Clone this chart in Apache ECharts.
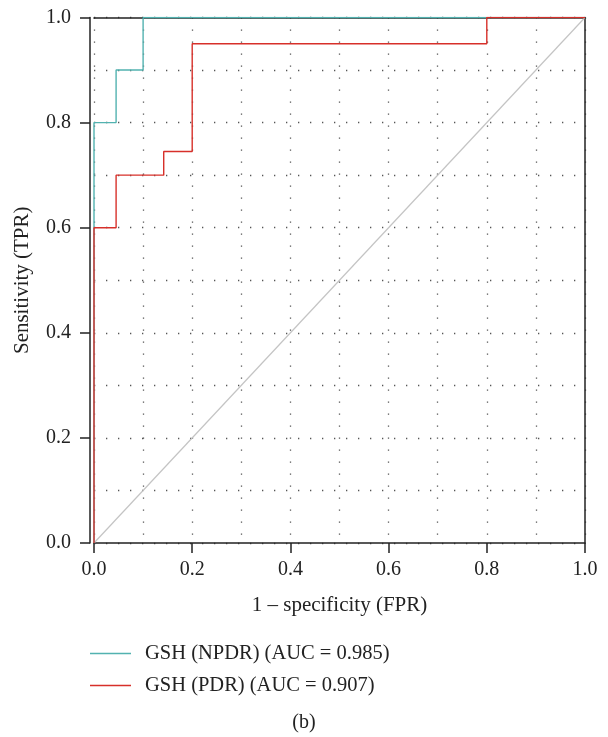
<!DOCTYPE html>
<html><head><meta charset="utf-8">
<script src="https://cdn.jsdelivr.net/npm/echarts@6/dist/echarts.min.js"></script>
<style>html,body{margin:0;padding:0;background:#fff}#c{width:608px;height:737px}</style>
</head><body><div id="c"></div>
<script>
const xTicks = [0, 0.2, 0.4, 0.6, 0.8, 1.0];
const npdrName = 'GSH (NPDR) (AUC = 0.985)';
const pdrName = 'GSH (PDR) (AUC = 0.907)';
const npdrFPR = [0, 0, 0.045, 0.045, 0.1, 0.1, 1.0];
const npdrTPR = [0, 0.8, 0.8, 0.9, 0.9, 1.0, 1.0];
const pdrFPR = [0, 0, 0.045, 0.045, 0.142, 0.142, 0.2, 0.2, 0.8, 0.8, 1.0];
const pdrTPR = [0, 0.6, 0.6, 0.7, 0.7, 0.745, 0.745, 0.95, 0.95, 1.0, 1.0];
const diagFPR = [0, 1];
const diagTPR = [0, 1];
const zip = (a, b) => a.map((v, i) => [v, b[i]]);

const font = 'Liberation Serif';
const frame = {color: '#222', width: 1.5};
const dotted = {color: '#555', width: 1.3, type: [1.3, 10.7]};

const chart = echarts.init(document.getElementById('c'));
chart.setOption({
  animation: false,
  textStyle: {fontFamily: font},
  grid: {left: 94, right: 23, top: 17.5, bottom: 194, containLabel: false},
  title: {text: '(b)', left: 'center', top: 708, textStyle: {fontFamily: font, fontSize: 20, fontWeight: 'normal', color: '#222'}},
  legend: {
    orient: 'vertical', left: 85, top: 638, itemWidth: 41, itemHeight: 1.5, itemGap: 11, icon: 'rect',
    data: [npdrName, pdrName],
    textStyle: {fontFamily: font, fontSize: 20.5, color: '#222', lineHeight: 20, padding: [0, 0, 0, 9]}
  },
  xAxis: [{
    type: 'value', min: xTicks[0], max: xTicks[xTicks.length - 1], interval: 0.2, position: 'bottom',
    name: '1 – specificity (FPR)', nameLocation: 'middle', nameGap: 52,
    nameTextStyle: {fontFamily: font, fontSize: 21, color: '#222'},
    axisLine: {onZero: false, lineStyle: frame},
    axisTick: {show: true, inside: false, length: 10, lineStyle: frame},
    axisLabel: {fontFamily: font, fontSize: 20, color: '#222', margin: 17, formatter: v => v.toFixed(1)},
    splitLine: {show: true, lineStyle: dotted},
    minorTick: {show: false, splitNumber: 2},
    minorSplitLine: {show: true, lineStyle: dotted}
  }, {
    type: 'value', min: 0, max: 1, position: 'top',
    axisLine: {show: true, onZero: false, lineStyle: frame},
    axisTick: {show: false}, axisLabel: {show: false}, splitLine: {show: false}
  }],
  yAxis: [{
    type: 'value', min: 0, max: 1, interval: 0.2, position: 'left', offset: 4,
    name: 'Sensitivity (TPR)', nameLocation: 'middle', nameGap: 57,
    nameTextStyle: {fontFamily: font, fontSize: 21, color: '#222'},
    axisLine: {show: true, onZero: false, lineStyle: frame},
    axisTick: {show: true, inside: false, length: 10, lineStyle: frame},
    axisLabel: {fontFamily: font, fontSize: 20, color: '#222', margin: 19, formatter: v => v.toFixed(1)},
    splitLine: {show: true, lineStyle: dotted},
    minorTick: {show: false, splitNumber: 2},
    minorSplitLine: {show: true, lineStyle: dotted}
  }, {
    type: 'value', min: 0, max: 1, position: 'right',
    axisLine: {show: true, onZero: false, lineStyle: frame},
    axisTick: {show: false}, axisLabel: {show: false}, splitLine: {show: false}
  }],
  series: [
    {name: 'diag', type: 'line', data: zip(diagFPR, diagTPR), symbol: 'none', silent: true,
     lineStyle: {color: '#c4c4c4', width: 1.2}, itemStyle: {color: '#c4c4c4'}, z: 2},
    {name: npdrName, type: 'line', data: zip(npdrFPR, npdrTPR), symbol: 'none',
     lineStyle: {color: '#52b2b0', width: 1.4}, itemStyle: {color: '#52b2b0'}, z: 3},
    {name: pdrName, type: 'line', data: zip(pdrFPR, pdrTPR), symbol: 'none',
     lineStyle: {color: '#d7302a', width: 1.4}, itemStyle: {color: '#d7302a'}, z: 4}
  ]
});
</script></body></html>
